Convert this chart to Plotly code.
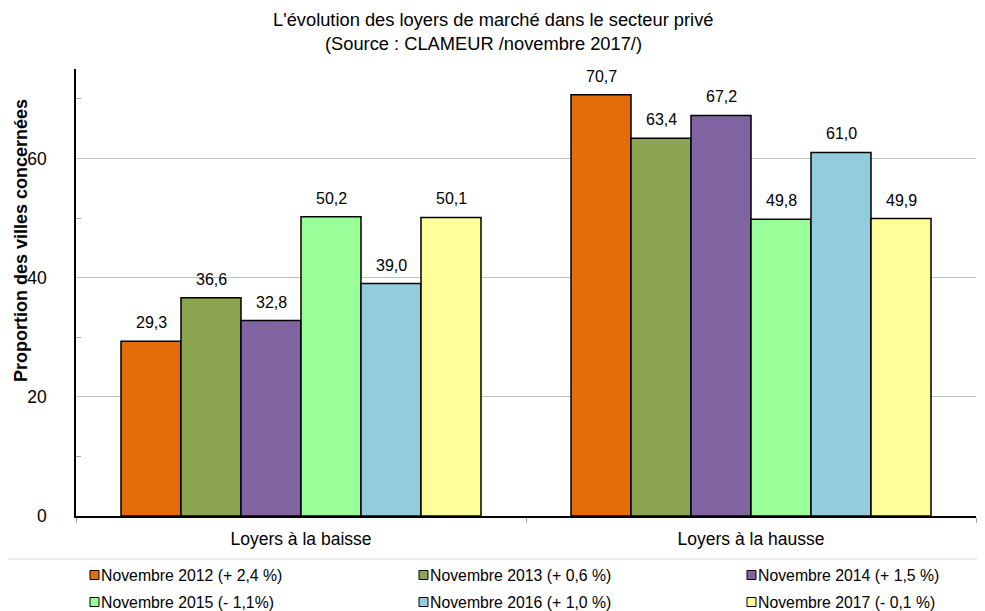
import plotly.graph_objects as go

# ---------------- data ----------------
categories = ["Loyers à la baisse", "Loyers à la hausse"]
series_names = [
    "Novembre 2012 (+ 2,4 %)",
    "Novembre 2013 (+ 0,6 %)",
    "Novembre 2014 (+ 1,5 %)",
    "Novembre 2015 (- 1,1%)",
    "Novembre 2016 (+ 1,0 %)",
    "Novembre 2017 (- 0,1 %)",
]
nov_2012 = [29.3, 70.7]
nov_2013 = [36.6, 63.4]
nov_2014 = [32.8, 67.2]
nov_2015 = [50.2, 49.8]
nov_2016 = [39.0, 61.0]
nov_2017 = [50.1, 49.9]
series_values = [nov_2012, nov_2013, nov_2014, nov_2015, nov_2016, nov_2017]
y_tick_values = [0, 20, 40, 60]
title_lines = ["L'évolution des loyers de marché dans le secteur privé",
               "(Source : CLAMEUR /novembre 2017/)"]
y_title = "Proportion des villes concernées"

# ---------------- style ----------------
colors = ["#E46C0A", "#8BA550", "#8064A2", "#99FF99", "#93CDDD", "#FFFF99"]
PAGE_W, PAGE_H = 985, 611
OFF = 8                      # default body margin of the html page
W, H = PAGE_W - OFF, PAGE_H - OFF
# plot area in page pixels
PL, PR, PT, PB = 76, 976, 69, 516
ML, MR, MT, MB = PL - OFF, PAGE_W - PR, PT - OFF, PAGE_H - PB
PW, PH = PR - PL, PB - PT
BARGAP = 0.2
FONT = "Liberation Sans, Arial, sans-serif"


def px_x(px):
    """page pixel x -> paper coordinate"""
    return (px - PL) / PW


def px_y(py):
    """page pixel y -> paper coordinate"""
    return (PB - py) / PH


def fmt(v):
    return f"{v:.1f}".replace(".", ",")


fig = go.Figure()
for name, vals, col in zip(series_names, series_values, colors):
    fig.add_trace(go.Bar(
        x=categories, y=vals, name=name,
        marker=dict(color=col, line=dict(color="#000000", width=1.5)),
        showlegend=False,
        hovertemplate="%{x}<br>" + name + " : %{y}<extra></extra>",
    ))

annotations = []
shapes = []

# value labels above bars
n = len(series_values)
bar_w = PW / len(categories) * (1 - BARGAP) / n
for i, vals in enumerate(series_values):
    for cat, v in zip(categories, vals):
        annotations.append(dict(
            x=cat, y=v, xref="x", yref="y", text=fmt(v),
            xshift=(i - (n - 1) / 2) * bar_w, yshift=8,
            yanchor="bottom", showarrow=False,
            font=dict(family=FONT, size=16, color="#000000"),
        ))

# title lines
title_cx = [493, 483]
for k, line in enumerate(title_lines):
    annotations.append(dict(
        x=px_x(title_cx[k]), y=px_y(20 + 23 * k),
        xref="paper", yref="paper", text=line, showarrow=False,
        xanchor="center", yanchor="middle",
        font=dict(family=FONT, size=18.3, color="#000000"),
    ))

# y axis title
annotations.append(dict(
    x=px_x(21), y=px_y(241), xref="paper", yref="paper",
    text="<b>" + y_title + "</b>", textangle=-90, showarrow=False,
    xanchor="center", yanchor="middle",
    font=dict(family=FONT, size=18, color="#000000"),
))

# legend (3 columns x 2 rows)
col_x = [90, 419, 747]
row_y = [575, 602]
sq = 9
for i, (name, col) in enumerate(zip(series_names, colors)):
    cx = col_x[i % 3]
    cy = row_y[i // 3]
    shapes.append(dict(
        type="rect", xref="paper", yref="paper",
        x0=px_x(cx), x1=px_x(cx + sq),
        y0=px_y(cy - sq / 2), y1=px_y(cy + sq / 2),
        fillcolor=col, line=dict(color="#000000", width=1),
    ))
    annotations.append(dict(
        x=px_x(cx + sq), y=px_y(cy),
        xref="paper", yref="paper", text=name, showarrow=False,
        xanchor="left", yanchor="middle",
        font=dict(family=FONT, size=15.8, color="#000000"),
    ))

# legend top border
shapes.append(dict(
    type="line", xref="paper", yref="paper",
    x0=px_x(OFF), x1=px_x(PAGE_W),
    y0=px_y(559), y1=px_y(559),
    line=dict(color="#D9D9D9", width=1),
))

fig.update_layout(
    width=W, height=H,
    margin=dict(l=ML, r=MR, t=MT, b=MB, pad=0),
    paper_bgcolor="#FFFFFF", plot_bgcolor="#FFFFFF",
    barmode="group", bargap=BARGAP, bargroupgap=0,
    showlegend=False,
    annotations=annotations, shapes=shapes,
    xaxis=dict(
        showline=True, linecolor="#000000", linewidth=1.5,
        ticks="outside", tickson="boundaries", ticklen=5, tickcolor="#A6A6A6",
        tickfont=dict(family=FONT, size=17.5, color="#000000"),
        ticklabelstandoff=6,
        showgrid=False, zeroline=False,
    ),
    yaxis=dict(
        range=[0, 75], tickvals=y_tick_values,
        ticktext=[str(t) for t in y_tick_values],
        showline=True, linecolor="#000000", linewidth=1.5,
        ticks="", showgrid=True, gridcolor="#BFBFBF", gridwidth=1,
        zeroline=False,
        tickfont=dict(family=FONT, size=17.5, color="#000000"),
        ticklabelstandoff=24,
        minor=dict(tickvals=[10, 30, 50, 70], ticks="inside", ticklen=5,
                   tickcolor="#A6A6A6", showgrid=False),
    ),
)

fig.write_html("out.html")
